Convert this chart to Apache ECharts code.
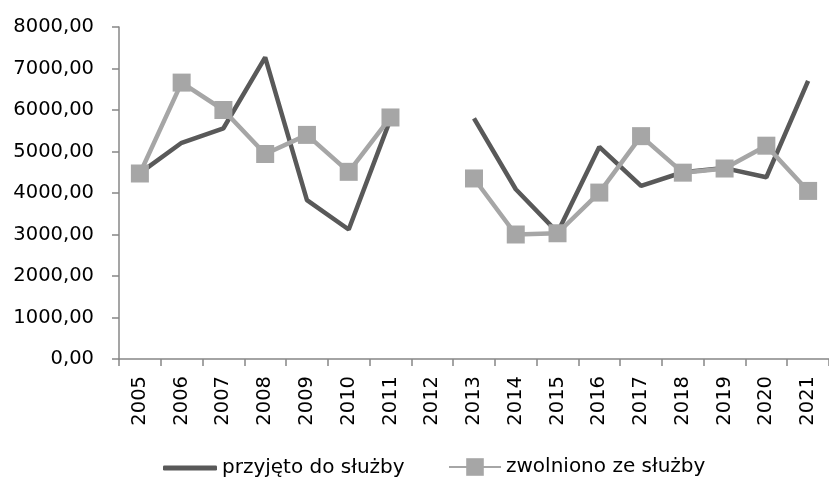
<!DOCTYPE html>
<html>
<head>
  <meta charset="utf-8">
  <script src="https://cdn.jsdelivr.net/npm/echarts@6/dist/echarts.min.js"></script>
  <style>
    html, body { margin: 0; padding: 0; background: #fff; }
    #chart { width: 829px; height: 478px; }
  </style>
</head>
<body>
  <div id="chart"></div>
  <script>
    // dane
    var years = ['2005', '2006', '2007', '2008', '2009', '2010', '2011', '2012', '2013',
      '2014', '2015', '2016', '2017', '2018', '2019', '2020', '2021'];
    var przyjeto = [4480, 5210, 5560, 7270, 3830, 3120, 5780, null, 5800,
      4090, 3050, 5110, 4170, 4500, 4600, 4380, 6700];
    var zwolniono = [4470, 6660, 6000, 4940, 5400, 4510, 5820, null, 4350,
      3000, 3030, 4010, 5370, 4490, 4590, 5140, 4050];
    var seriesNames = ['przyjęto do służby', 'zwolniono ze służby'];

    var font = 'DejaVu Sans';
    var axisColor = '#878787';
    var chart = echarts.init(document.getElementById('chart'));
    var legendText = { fontFamily: font, fontSize: 20, color: '#000' };
    var option = {
      animation: false,
      backgroundColor: '#ffffff',
      grid: { left: 119, right: -4, top: 27, bottom: 119 },
      legend: [
        {
          left: 158,
          top: 453,
          icon: 'roundRect',
          itemWidth: 54,
          itemHeight: 5,
          textStyle: legendText,
          data: [seriesNames[0]]
        },
        {
          left: 443,
          top: 452,
          itemWidth: 52,
          itemHeight: 22,
          textStyle: legendText,
          data: [seriesNames[1]]
        }
      ],
      xAxis: {
        type: 'category',
        data: years,
        boundaryGap: true,
        axisLine: { lineStyle: { color: axisColor, width: 1.5 } },
        axisTick: { show: true, length: 7, lineStyle: { color: axisColor, width: 1.5 } },
        axisLabel: {
          rotate: 90,
          margin: 17,
          fontFamily: font,
          fontSize: 19.5,
          color: '#000'
        }
      },
      yAxis: {
        type: 'value',
        min: 0,
        max: 8000,
        interval: 1000,
        splitLine: { show: false },
        axisLine: { show: true, lineStyle: { color: axisColor, width: 1.5 } },
        axisTick: { show: true, length: 7, lineStyle: { color: axisColor, width: 1.5 } },
        axisLabel: {
          margin: 25,
          fontFamily: font,
          fontSize: 19.5,
          color: '#000',
          formatter: function (v) { return v.toFixed(2).replace('.', ','); }
        }
      },
      series: [
        {
          name: seriesNames[0],
          type: 'line',
          data: przyjeto,
          symbol: 'none',
          lineStyle: { color: '#595959', width: 4.5 },
          itemStyle: { color: '#595959' },
          z: 2
        },
        {
          name: seriesNames[1],
          type: 'line',
          data: zwolniono,
          symbol: 'rect',
          symbolSize: 18,
          lineStyle: { color: '#a6a6a6', width: 4.5 },
          itemStyle: { color: '#a6a6a6' },
          z: 3
        }
      ]
    };
    chart.setOption(option);
  </script>
</body>
</html>
